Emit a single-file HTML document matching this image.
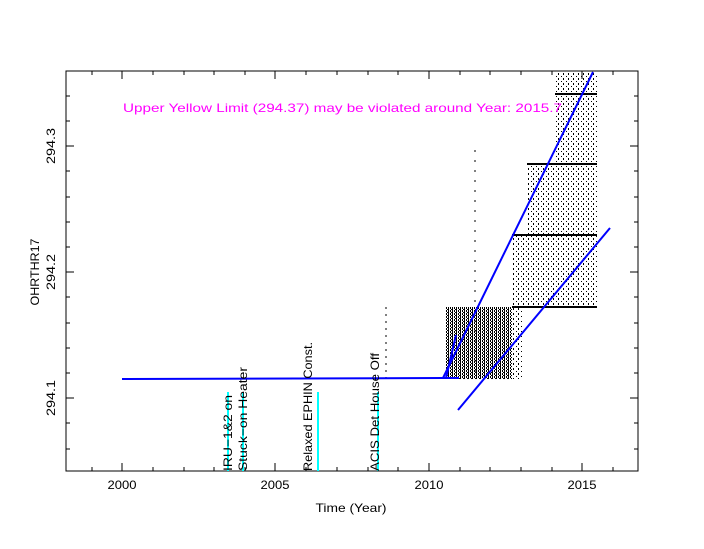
<!DOCTYPE html>
<html><head><meta charset="utf-8"><style>
body{margin:0;background:#fff}
text{font-family:"Liberation Sans",sans-serif}
</style></head><body>
<svg width="704" height="544" xmlns="http://www.w3.org/2000/svg">
<defs>
<pattern id="dense" width="4" height="3" patternUnits="userSpaceOnUse">
<rect width="4" height="3" fill="#fff"/><rect x="0" y="0" width="1" height="3" fill="#000"/><rect x="2" y="1" width="1" height="2" fill="#000"/><rect x="3" y="0" width="1" height="1" fill="#000"/></pattern>
<pattern id="sparse" width="5" height="5" patternUnits="userSpaceOnUse">
<rect width="5" height="5" fill="#fff"/><rect x="1" y="1" width="1" height="1" fill="#000"/><rect x="3" y="3" width="1" height="2" fill="#000"/></pattern>
</defs>
<rect x="66" y="71" width="572" height="400" fill="#fff" stroke="#000" stroke-width="1"/>
<rect x="445" y="307" width="67" height="72" fill="url(#dense)"/>
<rect x="512" y="307" width="10" height="72" fill="url(#sparse)"/>
<rect x="512" y="235" width="85" height="72" fill="url(#sparse)"/>
<rect x="527" y="164" width="70" height="71" fill="url(#sparse)"/>
<rect x="555" y="72" width="42" height="92" fill="url(#sparse)"/>
<line x1="512" y1="307" x2="597" y2="307" stroke="#000" stroke-width="2"/>
<line x1="512" y1="235" x2="597" y2="235" stroke="#000" stroke-width="2"/>
<line x1="527" y1="164" x2="597" y2="164" stroke="#000" stroke-width="2"/>
<line x1="555" y1="94" x2="597" y2="94" stroke="#000" stroke-width="2"/>
<line x1="386" y1="307" x2="386" y2="378" stroke="#000" stroke-dasharray="2,5"/>
<line x1="475" y1="150" x2="475" y2="378" stroke="#000" stroke-dasharray="2,8"/>
<g stroke="#00ffff" stroke-width="2">
<line x1="228" y1="392" x2="228" y2="471"/><line x1="243" y1="392" x2="243" y2="471"/>
<line x1="318" y1="392" x2="318" y2="471"/><line x1="378" y1="392" x2="378" y2="471"/></g>
<g stroke="#0000ff" stroke-width="2" fill="none">
<line x1="122" y1="379" x2="443" y2="378"/>
<line x1="443" y1="378" x2="459" y2="378"/>
<line x1="443" y1="378" x2="593" y2="72"/>
<line x1="446" y1="378" x2="456" y2="335"/>
<line x1="458" y1="410" x2="610" y2="228"/>
</g>
<g stroke="#000" stroke-width="1">
<path d="M92 471v-4M92 71v4M122 471v-8M122 71v8M153 471v-4M153 71v4M184 471v-4M184 71v4M214 471v-4M214 71v4M245 471v-4M245 71v4M275 471v-8M275 71v8M306 471v-4M306 71v4M337 471v-4M337 71v4M368 471v-4M368 71v4M398 471v-4M398 71v4M429 471v-8M429 71v8M460 471v-4M460 71v4M490 471v-4M490 71v4M521 471v-4M521 71v4M552 471v-4M552 71v4M582 471v-8M582 71v8M613 471v-4M613 71v4"/>
<path d="M66 146h8M638 146h-8M66 272h8M638 272h-8M66 398h8M638 398h-8M66 96h4M638 96h-4M66 121h4M638 121h-4M66 171h4M638 171h-4M66 197h4M638 197h-4M66 222h4M638 222h-4M66 247h4M638 247h-4M66 297h4M638 297h-4M66 323h4M638 323h-4M66 348h4M638 348h-4M66 373h4M638 373h-4M66 423h4M638 423h-4M66 449h4M638 449h-4"/>
</g>
<g font-size="12" text-anchor="middle">
<text x="122" y="489" textLength="29" lengthAdjust="spacingAndGlyphs">2000</text><text x="275" y="489" textLength="29" lengthAdjust="spacingAndGlyphs">2005</text><text x="429" y="489" textLength="29" lengthAdjust="spacingAndGlyphs">2010</text><text x="582" y="489" textLength="29" lengthAdjust="spacingAndGlyphs">2015</text>
<text x="351" y="512" textLength="71" lengthAdjust="spacingAndGlyphs">Time (Year)</text>
<text transform="translate(55,146) rotate(-90)" textLength="36" lengthAdjust="spacingAndGlyphs">294.3</text>
<text transform="translate(55,272) rotate(-90)" textLength="36" lengthAdjust="spacingAndGlyphs">294.2</text>
<text transform="translate(55,398) rotate(-90)" textLength="36" lengthAdjust="spacingAndGlyphs">294.1</text>
<text transform="translate(39,272) rotate(-90)" textLength="67" lengthAdjust="spacingAndGlyphs">OHRTHR17</text>
</g>
<text x="123" y="112" font-size="12" fill="#ff00ff" textLength="439" lengthAdjust="spacingAndGlyphs">Upper Yellow  Limit (294.37) may be violated around Year: 2015.7</text>
<g font-size="12">
<text transform="translate(232,471) rotate(-90)" textLength="76" lengthAdjust="spacingAndGlyphs">IRU−1&amp;2 on</text>
<text transform="translate(247,471) rotate(-90)" textLength="104" lengthAdjust="spacingAndGlyphs">Stuck−on Heater</text>
<text transform="translate(312,471) rotate(-90)" textLength="129" lengthAdjust="spacingAndGlyphs">Relaxed EPHIN Const.</text>
<text transform="translate(379,471) rotate(-90)" textLength="118" lengthAdjust="spacingAndGlyphs">ACIS Det House Off</text>
</g>
</svg>
</body></html>
